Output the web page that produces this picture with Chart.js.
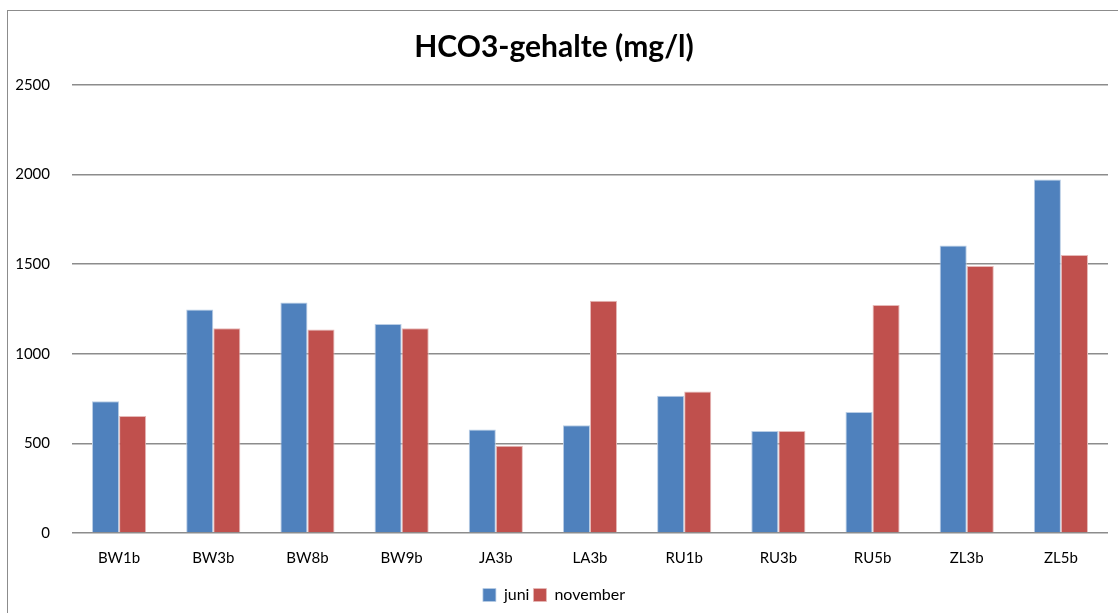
<!DOCTYPE html>
<html>
<head>
<meta charset="utf-8">
<script src="https://cdn.jsdelivr.net/npm/chart.js@4"></script>
<style>
    body { margin: 0; background: #fff; }
    #frame { position: absolute; left: 7px; top: 10px; width: 1130px; height: 620px; border: 1px solid #8c8c8c; }
    #wrap { position: absolute; left: 0; top: 0; width: 1118px; height: 613px; }
</style>
</head>
<body>
<div id="frame"></div>
<div id="wrap"><canvas id="hco3Chart"></canvas></div>
<script>
// meetpunten en waarden (mg/l)
const locations = ['BW1b', 'BW3b', 'BW8b', 'BW9b', 'JA3b', 'LA3b', 'RU1b', 'RU3b', 'RU5b', 'ZL3b', 'ZL5b'];
const juni = [735, 1247, 1286, 1166, 578, 601, 766, 569, 675, 1604, 1973];
const november = [653, 1143, 1135, 1143, 487, 1296, 789, 569, 1272, 1490, 1552];
const yTicks = [0, 500, 1000, 1500, 2000, 2500];

const ctx = document.getElementById('hco3Chart').getContext('2d');
new Chart(ctx, {
    type: 'bar',
    data: {
        labels: locations,
        datasets: [
            {
                label: 'juni',
                data: juni,
                backgroundColor: '#4F81BD',
                borderColor: '#B9CDE5',
                borderWidth: { top: 1, right: 1, left: 1, bottom: 0 },
                barPercentage: 1,
                categoryPercentage: 0.575
            },
            {
                label: 'november',
                data: november,
                backgroundColor: '#C0504D',
                borderColor: '#E6B9B8',
                borderWidth: { top: 1, right: 1, left: 1, bottom: 0 },
                barPercentage: 1,
                categoryPercentage: 0.575
            }
        ]
    },
    options: {
        responsive: true,
        maintainAspectRatio: false,
        animation: false,
        layout: {
            padding: { left: 0, right: 10, top: 0, bottom: 0 }
        },
        plugins: {
            title: {
                display: true,
                text: 'HCO3-gehalte (mg/l)',
                color: '#000',
                font: { family: 'Lato', size: 30, weight: 'bold' },
                padding: { top: 29, bottom: 20 }
            },
            legend: {
                display: true,
                position: 'bottom',
                labels: {
                    color: '#000',
                    font: { family: 'Lato', size: 16 },
                    boxWidth: 13,
                    boxHeight: 13,
                    padding: 4
                }
            },
            tooltip: { enabled: false }
        },
        scales: {
            x: {
                grid: { display: false, drawTicks: false },
                border: { display: false },
                ticks: {
                    color: '#000',
                    font: { family: 'Lato', size: 15 },
                    padding: 16
                }
            },
            y: {
                min: 0,
                max: 2500,
                afterBuildTicks: function (scale) {
                    scale.ticks = yTicks.map(v => ({ value: v }));
                },
                afterFit: function (scale) {
                    scale.width = 72;
                },
                grid: { color: '#8c8c8c', lineWidth: 1.5, drawTicks: false },
                border: { display: false },
                ticks: {
                    color: '#000',
                    font: { family: 'Lato', size: 15 },
                    padding: 22,
                    callback: function (value) { return String(value); }
                }
            }
        }
    }
});
</script>
</body>
</html>
